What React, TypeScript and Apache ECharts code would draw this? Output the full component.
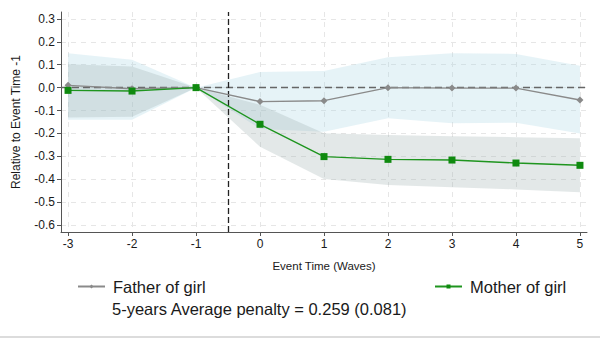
import React, { useEffect, useRef } from "react";
import * as echarts from "echarts";

const waves = [-3, -2, -1, 0, 1, 2, 3, 4, 5];
const fatherVals = [0.01, -0.005, 0, -0.061, -0.057, 0.0, -0.002, -0.002, -0.054];
const motherVals = [-0.012, -0.015, 0, -0.16, -0.301, -0.313, -0.316, -0.329, -0.339];
const fatherLow = [-0.14, -0.14, 0, -0.18, -0.192, -0.134, -0.155, -0.153, -0.2];
const fatherHigh = [0.15, 0.122, 0, 0.068, 0.073, 0.133, 0.15, 0.147, 0.096];
const motherLow = [-0.13, -0.127, 0, -0.258, -0.399, -0.425, -0.435, -0.444, -0.457];
const motherHigh = [0.102, 0.092, 0, -0.075, -0.199, -0.207, -0.212, -0.216, -0.221];
const xTicks = [-3, -2, -1, 0, 1, 2, 3, 4, 5];
const yTicks = [-0.6, -0.5, -0.4, -0.3, -0.2, -0.1, 0, 0.1, 0.2, 0.3];
const noteText = "5-years Average penalty = 0.259 (0.081)";

const FONT = "Liberation Sans, Arial, sans-serif";

function bandSeries(name: string, low: number[], high: number[], color: string, z: number) {
  return {
    type: "custom",
    name,
    z,
    silent: true,
    data: [0],
    renderItem: (_params: any, api: any) => {
      const pts: number[][] = [];
      for (let i = 0; i < waves.length; i++) pts.push(api.coord([waves[i], high[i]]));
      for (let i = waves.length - 1; i >= 0; i--) pts.push(api.coord([waves[i], low[i]]));
      return { type: "polygon", shape: { points: pts }, style: { fill: color, stroke: "none" } };
    },
  };
}

const legendText = { fontFamily: FONT, fontSize: 16.5, color: "#1a1a1a", padding: [0, 0, 0, 3] };

export default function App() {
  const ref = useRef<HTMLDivElement>(null);
  useEffect(() => {
    if (!ref.current) return;
    const chart = echarts.init(ref.current, null, { renderer: "svg" });
    chart.setOption({
      animation: false,
      backgroundColor: "#ffffff",
      grid: { left: 61, right: 13, top: 12, bottom: 106 },
      xAxis: {
        type: "value",
        min: -3.11,
        max: 5.11,
        name: "Event Time (Waves)",
        nameLocation: "middle",
        nameGap: 28,
        nameTextStyle: { fontFamily: FONT, fontSize: 11.5, color: "#1a1a1a" },
        axisLine: { show: true, onZero: false, lineStyle: { color: "#555", width: 1 } },
        axisTick: { show: true, length: 4, customValues: xTicks, lineStyle: { color: "#555" } },
        axisLabel: { customValues: xTicks, fontFamily: FONT, fontSize: 12, color: "#1a1a1a", margin: 6, formatter: (v: number) => String(v) },
        splitLine: { show: true, lineStyle: { color: "#e6e6e6", type: [5, 5], width: 1 } },
      },
      yAxis: {
        type: "value",
        min: -0.63,
        max: 0.33,
        name: "Relative to Event Time -1",
        nameLocation: "middle",
        nameGap: 39,
        nameTextStyle: { fontFamily: FONT, fontSize: 12, color: "#1a1a1a" },
        axisLine: { show: true, onZero: false, lineStyle: { color: "#555", width: 1 } },
        axisTick: { show: true, length: 4, customValues: yTicks, lineStyle: { color: "#555" } },
        axisLabel: { customValues: yTicks, fontFamily: FONT, fontSize: 12, color: "#1a1a1a", margin: 6, formatter: (v: number) => (Math.abs(v) < 1e-9 ? "0.0" : v.toFixed(1)) },
        splitLine: { show: true, lineStyle: { color: "#e6e6e6", type: [5, 5], width: 1 } },
      },
      legend: [
        {
          data: ["Father of girl"],
          left: 77,
          top: 278,
          padding: 0,
          itemWidth: 27,
          itemHeight: 5,
          textStyle: legendText,
        },
        {
          data: ["Mother of girl"],
          left: 434,
          top: 278,
          padding: 0,
          itemWidth: 27,
          itemHeight: 5,
          textStyle: legendText,
        },
      ],
      graphic: [
        {
          type: "text",
          left: 112,
          top: 300,
          style: { text: noteText, font: `16.5px ${FONT}`, fill: "#1a1a1a" },
        },
        { type: "rect", shape: { x: 0, y: 336, width: 600, height: 2 }, style: { fill: "#dcdcdc" } },
      ],
      series: [
        bandSeries("fatherBand", fatherLow, fatherHigh, "rgba(173,216,230,0.3)", 1),
        bandSeries("motherBand", motherLow, motherHigh, "rgba(150,170,170,0.27)", 2),
        {
          type: "line",
          name: "Father of girl",
          z: 5,
          data: waves.map((w, i) => [w, fatherVals[i]]),
          symbol: "diamond",
          symbolSize: 7,
          itemStyle: { color: "#8a8a8a" },
          lineStyle: { color: "#8a8a8a", width: 1.4 },
          markLine: {
            silent: true,
            symbol: "none",
            label: { show: false },
            data: [
              { yAxis: 0, lineStyle: { color: "#666", type: [7, 4], width: 1.3 } },
              { xAxis: -0.5, lineStyle: { color: "#222", type: [6, 3], width: 1.3 } },
            ],
          },
        },
        {
          type: "line",
          name: "Mother of girl",
          z: 6,
          data: waves.map((w, i) => [w, motherVals[i]]),
          symbol: "rect",
          symbolSize: 7,
          itemStyle: { color: "#0f8a0f" },
          lineStyle: { color: "#1f951f", width: 1.4 },
        },
      ],
    });
    return () => chart.dispose();
  }, []);
  return <div ref={ref} style={{ width: 600, height: 338, position: "absolute", left: 0, top: 0 }} />;
}
